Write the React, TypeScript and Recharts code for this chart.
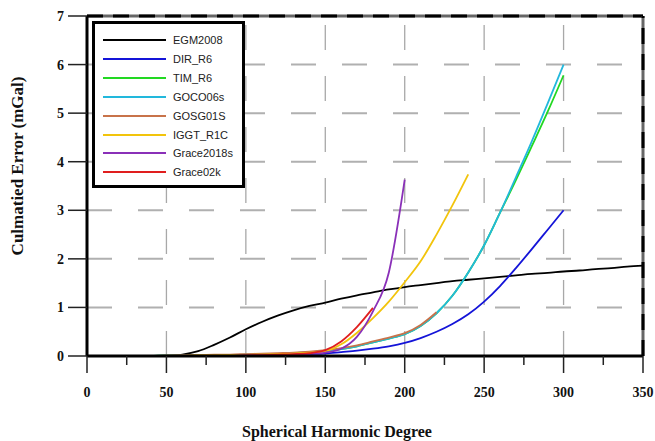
import React from 'react';
import { LineChart, Line, XAxis, YAxis, ReferenceLine } from 'recharts';

// degree axis, every 10
const degrees = [0, 10, 20, 30, 40, 50, 60, 70, 80, 90, 100, 110, 120, 130, 140, 150, 160, 170, 180, 190, 200, 210, 220, 230, 240, 250, 260, 270, 280, 290, 300, 310, 320, 330, 340, 350];

const egm2008 = [0, 0, 0, 0, 0, 0, 0.03, 0.1, 0.23, 0.38, 0.55, 0.7, 0.83, 0.94, 1.03, 1.1, 1.18, 1.25, 1.31, 1.37, 1.42, 1.46, 1.5, 1.54, 1.57, 1.6, 1.63, 1.66, 1.69, 1.71, 1.74, 1.76, 1.79, 1.81, 1.84, 1.86];
const dirR6 = [0, 0, 0, 0, 0, 0, 0, 0, 0, 0, 0.01, 0.01, 0.02, 0.03, 0.04, 0.05, 0.08, 0.11, 0.15, 0.2, 0.27, 0.37, 0.5, 0.66, 0.86, 1.12, 1.44, 1.81, 2.2, 2.6, 3.0];
const timR6 = [0, 0, 0, 0, 0, 0.01, 0.01, 0.01, 0.02, 0.02, 0.03, 0.03, 0.04, 0.06, 0.08, 0.1, 0.14, 0.2, 0.28, 0.36, 0.45, 0.62, 0.88, 1.24, 1.72, 2.28, 2.95, 3.62, 4.32, 5.03, 5.78];
const goco06s = [0, 0, 0, 0, 0, 0.01, 0.01, 0.01, 0.02, 0.02, 0.03, 0.03, 0.04, 0.06, 0.08, 0.1, 0.14, 0.2, 0.28, 0.36, 0.45, 0.62, 0.88, 1.24, 1.72, 2.28, 2.95, 3.68, 4.42, 5.2, 6.0];
const gosg01s = [0, 0, 0, 0, 0, 0.01, 0.02, 0.02, 0.03, 0.03, 0.04, 0.05, 0.06, 0.07, 0.09, 0.12, 0.16, 0.22, 0.3, 0.38, 0.47, 0.64, 0.9];
const iggtR1c = [0, 0, 0, 0, 0, 0, 0, 0.01, 0.01, 0.02, 0.02, 0.03, 0.04, 0.05, 0.07, 0.1, 0.24, 0.48, 0.78, 1.12, 1.52, 1.95, 2.5, 3.1, 3.74];
const grace2018s = [0, 0, 0, 0, 0, 0, 0, 0, 0, 0, 0.01, 0.01, 0.02, 0.03, 0.04, 0.07, 0.15, 0.4, 0.92, 1.72, 3.63];
const grace02k = [0, 0, 0, 0, 0, 0, 0, 0, 0, 0, 0.01, 0.02, 0.03, 0.04, 0.06, 0.12, 0.3, 0.6, 0.99];

const xTicks = [0, 25, 50, 75, 100, 125, 150, 175, 200, 225, 250, 275, 300, 325, 350];
const yTicks = [0, 1, 2, 3, 4, 5, 6, 7];
const xGrid = [50, 100, 150, 200, 250, 300];
const yGrid = [1, 2, 3, 4, 5, 6];

const series = [
  { key: 'EGM2008', values: egm2008, color: '#000000' },
  { key: 'DIR_R6', values: dirR6, color: '#1414d8' },
  { key: 'TIM_R6', values: timR6, color: '#22d822' },
  { key: 'GOCO06s', values: goco06s, color: '#22b8dc' },
  { key: 'GOSG01S', values: gosg01s, color: '#c8734a' },
  { key: 'IGGT_R1C', values: iggtR1c, color: '#f2c40c' },
  { key: 'Grace2018s', values: grace2018s, color: '#8a30b8' },
  { key: 'Grace02k', values: grace02k, color: '#e01e1e' },
];

const data = degrees.map((d, i) => {
  const row: Record<string, number | null> = { degree: d };
  series.forEach(s => {
    row[s.key] = i < s.values.length ? s.values[i] : null;
  });
  return row;
});

const serif = '"Liberation Serif", "Times New Roman", serif';

const XTick = (props: any) => {
  const { x, y, payload } = props;
  const major = payload.value % 50 === 0;
  return (
    <g>
      <line x1={x} x2={x} y1={y} y2={y + (major ? 17 : 9)} stroke="#222" strokeWidth={1.5} />
      {major && (
        <text x={x} y={y + 41} textAnchor="middle" fontFamily={serif} fontWeight="bold" fontSize={14} fill="#111">
          {payload.value}
        </text>
      )}
    </g>
  );
};

const XTitle = () => (
  <text x={337} y={437} textAnchor="middle" fontFamily={serif} fontWeight="bold" fontSize={16} fill="#111">
    Spherical Harmonic Degree
  </text>
);

const YTitle = () => (
  <text x={23} y={166} transform="rotate(-90 23 166)" textAnchor="middle" fontFamily={serif} fontWeight="bold" fontSize={17} fill="#111">
    Culmatied Error (mGal)
  </text>
);

const LegendBox = () => (
  <div
    style={{
      position: 'absolute',
      left: 92,
      top: 21,
      width: 147,
      height: 161,
      border: '3px solid #000',
      background: '#fff',
      fontFamily: '"Liberation Sans", Arial, sans-serif',
      fontSize: 11,
      color: '#222',
    }}
  >
    {series.map((s, i) => (
      <div key={s.key} style={{ position: 'absolute', left: 8, top: 10 + i * 18.9, height: 12, display: 'flex', alignItems: 'center' }}>
        <div style={{ width: 63, height: 0, borderTop: `2px solid ${s.color}` }} />
        <span style={{ marginLeft: 7, lineHeight: '12px' }}>{s.key}</span>
      </div>
    ))}
  </div>
);

export default function App() {
  return (
    <div style={{ position: 'absolute', left: 0, top: 0, width: 655, height: 441, background: '#fff' }}>
      <LineChart width={655} height={441} data={data} margin={{ top: 16, right: 12, left: 27, bottom: 45 }}>
        <XAxis
          dataKey="degree"
          type="number"
          domain={[0, 350]}
          ticks={xTicks}
          interval={0}
          height={40}
          tickSize={0}
          tickMargin={0}
          tickLine={false}
          axisLine={{ stroke: '#000', strokeWidth: 3 }}
          tick={<XTick />}
          label={<XTitle />}
        />
        <YAxis
          type="number"
          domain={[0, 7]}
          ticks={yTicks}
          interval={0}
          width={60}
          tickSize={19}
          tickMargin={4}
          tickLine={{ stroke: '#222', strokeWidth: 1.5 }}
          axisLine={{ stroke: '#000', strokeWidth: 3 }}
          tick={{ fill: '#111', fontFamily: serif, fontWeight: 'bold', fontSize: 14 }}
          label={<YTitle />}
        />
        {yGrid.map(v => (
          <ReferenceLine key={'h' + v} y={v} stroke="#b0b0b0" strokeWidth={2} strokeDasharray="25 26" ifOverflow="visible" />
        ))}
        {xGrid.map(v => (
          <ReferenceLine key={'v' + v} x={v} stroke="#a8a8a8" strokeWidth={1.3} strokeDasharray="25 26" ifOverflow="visible" />
        ))}
        <ReferenceLine y={7} stroke="#666" strokeWidth={3} ifOverflow="visible" />
        <ReferenceLine y={7} stroke="#000" strokeWidth={3} strokeDasharray="16 10" ifOverflow="visible" />
        <ReferenceLine x={350} stroke="#666" strokeWidth={3} ifOverflow="visible" />
        <ReferenceLine x={350} stroke="#000" strokeWidth={3} strokeDasharray="16 10" ifOverflow="visible" />
        {series.map(s => (
          <Line
            key={s.key}
            type="monotone"
            dataKey={s.key}
            stroke={s.color}
            strokeWidth={1.8}
            dot={false}
            activeDot={false}
            connectNulls={false}
            isAnimationActive={false}
          />
        ))}
      </LineChart>
      <LegendBox />
    </div>
  );
}
